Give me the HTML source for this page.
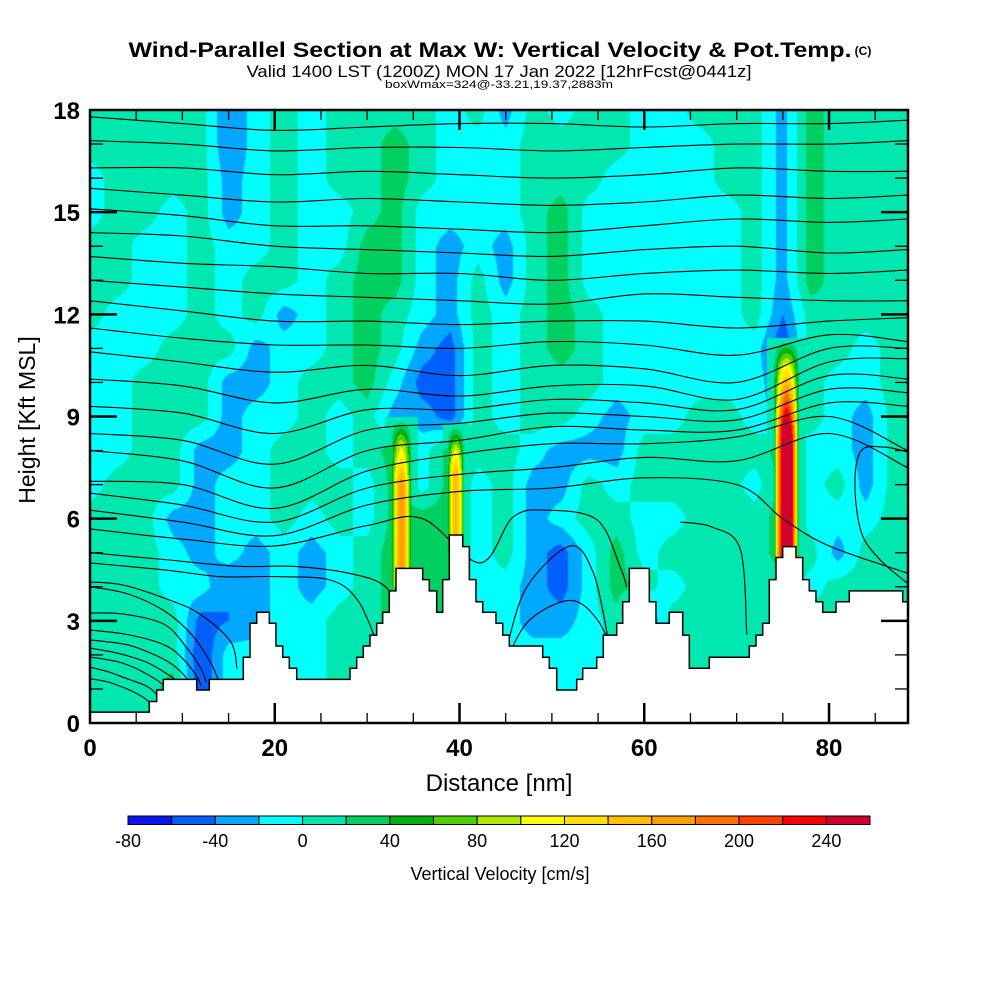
<!DOCTYPE html>
<html><head><meta charset="utf-8">
<style>
html,body{margin:0;padding:0;background:#fff;}
#wrap{position:relative;width:1000px;height:1000px;overflow:hidden;font-family:"Liberation Sans",Arial,sans-serif;}
canvas,svg{position:absolute;left:0;top:0;}
</style></head>
<body>
<div id="wrap">
<canvas id="cv" width="1000" height="1000"></canvas>
<svg id="sv" width="1000" height="1000"></svg>
</div>
<script>
// ---- data ----
const gridX = [0,3,6,9,12,15,18,21,24,27,30,33,36,39,42,45,48,51,54,57,60,63,66,69,72,75,78,81,84,87,90];
const gridY = [0,1,2,3,4,5,6,7,8,9,10,11,12,13,14,15,16,17,18];
const w0  = [10,10,10,30,-60,-10,-10,-10,-10,10,10,10,10,10,-10,-10,-10,-10,-10,10,10,10,10,10,10,10,10,10,10,10,10];
const w1  = [10,10,10,30,-60,-10,-10,-10,-10,10,10,10,10,10,-10,-10,-10,-10,-10,10,10,10,10,10,10,10,10,10,10,10,10];
const w2  = [10,10,10,10,-60,-10,-10,-10,-10,10,10,10,10,10,-10,-10,-10,-10,-10,10,10,10,10,10,10,10,10,10,10,10,10];
const w3  = [10,10,10,10,-50,-40,-30,-10,-10,10,10,30,30,30,-10,-10,-30,-30,-10,10,-50,10,10,10,10,10,10,10,10,10,10];
const w4  = [10,10,10,-10,-10,-40,-30,-10,-30,-10,10,30,30,30,-10,-10,-30,-50,-10,30,10,-10,10,10,10,10,-10,10,10,10,10];
const w5  = [10,10,10,-10,-30,-10,-30,-10,-30,-10,10,30,30,30,-10,10,-30,-50,-10,30,-10,10,10,10,10,30,10,-30,10,10,-10];
const w6  = [10,10,10,-30,-30,-10,-10,10,-10,10,-10,30,30,30,-10,10,-30,-10,10,10,-10,-10,10,10,10,30,-10,-10,-10,10,-10];
const w7  = [-10,10,10,10,-30,-10,-10,10,10,10,-10,30,-10,30,-10,10,-30,-30,10,-10,10,10,10,10,-10,30,-10,10,-30,10,-10];
const w8  = [-10,-10,10,10,-30,-30,-10,10,10,-10,10,30,-10,30,10,10,-10,-30,-30,-30,10,10,10,10,10,30,-10,-10,-30,10,10];
const w9  = [-10,-10,10,10,10,-30,-10,-10,10,-10,10,-30,-30,-50,10,-10,10,10,-10,-30,-10,-10,10,10,-10,-30,10,-10,-30,10,10];
const w10 = [-10,-10,10,10,10,-30,-30,-10,10,10,30,-10,-50,-50,10,-10,10,10,10,-10,-10,-10,-10,-10,-10,-40,10,-10,-10,10,10];
const w11 = [-10,-10,-10,10,10,10,-30,-10,-10,10,30,10,-30,-50,10,-10,10,30,10,-10,-10,-10,-10,-10,-10,-60,10,10,-10,10,10];
const w12 = [10,-10,-10,-10,10,-10,10,-30,-10,10,30,10,-10,-30,10,-10,10,30,10,-10,-10,-10,-10,-10,10,-40,10,10,10,10,10];
const w13 = [10,10,-10,-10,10,-10,10,10,-10,10,30,30,-10,-30,10,-30,10,30,-10,-10,-10,-10,-10,-10,10,-30,30,10,10,10,10];
const w14 = [10,10,-10,-10,10,-10,-10,10,-10,-10,30,30,-10,-30,-10,-30,10,30,-10,-10,-10,-10,-10,-10,10,-30,30,10,10,10,10];
const w15 = [-10,10,10,-10,10,-30,-10,10,-10,-10,10,30,-10,-10,-10,-10,10,30,-10,-10,-10,-10,-10,-10,10,-30,30,10,10,10,10];
const w16 = [-10,10,10,10,10,-30,-10,10,-10,10,10,30,10,-10,-10,-10,10,10,10,-10,-10,-10,-10,10,10,-30,30,10,10,10,10];
const w17 = [10,10,10,10,10,-40,-10,10,-10,10,10,30,10,-10,-10,-10,10,10,10,10,-10,-10,-10,10,10,-30,30,10,10,10,10];
const w18 = [10,10,10,10,10,-40,-10,10,-10,10,10,10,10,-10,10,-30,10,-10,10,10,-10,-10,10,10,10,-30,30,10,10,10,10];
const wRows = [w0,w1,w2,w3,w4,w5,w6,w7,w8,w9,w10,w11,w12,w13,w14,w15,w16,w17,w18];
// narrow updraft jets: center nm, half width nm, bottom kft, top kft, peak cm/s
const jetCenter = [33.7, 39.6, 75.4];
const jetHalfW  = [1.1, 0.9, 1.35];
const jetBottom = [4.5, 5.5, 5.0];
const jetTop    = [9.0, 8.8, 11.3];
const jetPeak   = [135, 120, 250];
// terrain steps (start nm, height kft)
const terrX = [0,6.42,7.22,7.94,11.55,12.91,16.60,17.32,18.05,19.41,20.14,20.86,21.58,22.38,28.15,28.87,29.59,30.31,31.04,31.69,32.40,33.13,36.02,36.73,37.53,38.18,38.90,40.35,41.06,41.79,42.51,43.95,44.68,45.39,49.01,49.72,50.52,52.69,53.34,54.85,55.57,57.02,57.67,58.38,60.55,61.27,62.71,64.16,64.88,67.04,71.37,72.10,72.82,73.54,74.26,74.99,76.43,77.15,77.87,78.59,79.32,80.76,82.20,87.98];
const terrH = [0.32,0.63,0.97,1.28,0.97,1.28,1.93,2.93,3.25,2.93,2.26,1.93,1.61,1.28,1.61,1.93,2.26,2.58,2.93,3.25,3.88,4.54,4.21,3.88,3.25,4.21,5.52,5.18,4.21,3.56,3.25,2.93,2.58,2.26,1.93,1.61,0.97,1.28,1.61,1.93,2.58,2.93,3.56,4.54,3.56,2.93,3.25,2.58,1.61,1.93,2.26,2.58,2.93,4.21,4.86,5.18,4.86,4.21,3.88,3.56,3.25,3.56,3.88,3.56];
// potential temperature contour lines
const thX10 = [0,10,20,30,40,50,60,70,80,88.5];
const thetaX = [
 thX10,thX10,thX10,thX10,thX10,thX10,thX10,thX10,thX10,thX10,thX10,thX10,thX10,thX10,thX10,thX10,thX10,
 [0,10,20,30,40,50,60,70,75,80,88.5],
 [0,10,20,30,36,42.2,45.8,49.5,54.9,57.4,58.1],
 [0,8,16,22,28,32,34],
 [0,8,14,20,26,29,31],
 [0,3.6,8.7,11.9,15.2,15.9],
 [0,4,8,11,13,14],
 [0,3.6,8,10.5,12,12.6],
 [0,4,8,10,11.5,12],
 [0,4,7,9,10.5,11],
 [0,3,6,8,9.5,10],
 [0,3,5,7,8,8.5],
 [0,2,4,6,7,7.5],
 [0,2,4,5.5,6.5],
 [45.1,47.3,52.0,54.5,56.0],
 [63.9,67.4,70.4,71.1],
 [88.5,85.5,83.5,82.8,83.5,86,88.5],
 [45,47.5,52,55,57]
];
const thetaH = [
 [17.8,17.6,17.4,17.5,17.6,17.6,17.5,17.6,17.6,17.7],
 [17.1,17.0,16.8,16.9,16.9,16.8,16.9,17.0,17.0,17.1],
 [16.3,16.3,16.1,16.2,16.1,16.0,16.1,16.3,16.2,16.2],
 [15.7,15.5,15.3,15.4,15.3,15.2,15.3,15.5,15.4,15.5],
 [15.1,14.9,14.6,14.6,14.5,14.4,14.6,14.8,14.7,14.8],
 [14.4,14.3,14.0,13.9,13.8,13.7,13.9,14.0,13.8,13.9],
 [13.7,13.5,13.4,13.2,13.2,13.0,13.2,13.3,13.2,13.3],
 [13.0,12.8,12.6,12.5,12.4,12.3,12.6,12.5,12.4,12.4],
 [12.4,12.1,11.8,11.8,11.7,11.8,11.8,11.6,11.8,11.9],
 [11.6,11.3,11.1,11.1,11.0,11.2,11.1,10.8,11.4,11.2],
 [10.9,10.6,10.3,10.5,10.2,10.5,10.4,10.0,11.0,11.0],
 [10.1,9.9,9.4,9.8,9.6,9.9,9.9,9.5,10.6,10.7],
 [9.3,9.1,8.5,9.2,9.2,9.5,9.4,9.2,10.2,10.1],
 [8.5,8.3,7.6,8.6,8.8,9.1,9.0,8.9,9.8,9.7],
 [8.0,7.7,6.9,8.0,8.3,8.7,8.6,8.6,9.4,9.3],
 [7.1,7.0,6.3,7.4,7.9,8.2,8.2,8.4,9.0,8.0],
 [6.75,6.4,5.9,6.9,7.3,7.5,7.8,7.7,8.5,7.5],
 [6.25,5.9,5.5,6.4,6.8,6.9,7.2,7.0,6.0,5.2,4.4],
 [5.7,5.4,5.2,5.8,6.0,4.7,6.05,6.25,5.96,4.58,4.0],
 [5.0,4.8,4.6,4.6,4.4,4.0,3.0],
 [4.7,4.5,4.3,4.3,4.2,3.6,2.4],
 [4.14,4.05,3.6,3.2,2.4,1.6],
 [4.0,3.8,3.3,2.6,1.8,1.2],
 [3.23,3.2,2.9,2.2,1.6,1.2],
 [2.73,2.6,2.3,1.9,1.4,1.1],
 [2.44,2.3,2.0,1.7,1.3,1.0],
 [2.2,2.05,1.8,1.5,1.2,0.9],
 [1.94,1.8,1.6,1.3,1.1,0.9],
 [1.64,1.5,1.3,1.1,0.9,0.7],
 [1.3,1.2,1.0,0.8,0.6],
 [2.2,4.0,5.2,4.4,2.6],
 [5.9,5.75,5.1,2.6],
 [4.1,4.8,5.6,7.0,8.0,8.1,7.96],
 [1.8,3.0,3.6,3.0,1.8]
];
const xTicks = [0,20,40,60,80];
const yTicks = [0,3,6,9,12,15,18];
const cbarLabels = [-80,-40,0,40,80,120,160,200,240];
const cbarColors = ["#0a14f0","#0060ff","#00a8ff","#00ffff","#00e8b0","#00d060","#00b010","#50d000","#b0e800","#ffff00","#ffe000","#ffc000","#ffa000","#ff7000","#ff4000","#ff0000","#d00030"];
const cbarMin = -80, cbarStep = 20;

// ---- axes ----
const PL=90, PR=908, PT=110, PB=723, XMAX=88.55, YMAX=18;
function sx(nm){return PL+(PR-PL)*nm/XMAX;}
function sy(k){return PB-(PB-PT)*k/YMAX;}
function hexRGB(h){return [parseInt(h.slice(1,3),16),parseInt(h.slice(3,5),16),parseInt(h.slice(5,7),16)];}
const rgb = cbarColors.map(hexRGB);

function fieldAt(nm,k){
  let gi = Math.min(Math.max(nm/3,0),gridX.length-1.0001);
  let gj = Math.min(Math.max(k,0),gridY.length-1.0001);
  let i=Math.floor(gi), j=Math.floor(gj), fx=gi-i, fy=gj-j;
  let a=wRows[j][i], b=wRows[j][i+1], c=wRows[j+1][i], d=wRows[j+1][i+1];
  let v=(a*(1-fx)+b*fx)*(1-fy)+(c*(1-fx)+d*fx)*fy;
  for(let q=0;q<jetCenter.length;q++){
    let dx=(nm-jetCenter[q])/jetHalfW[q];
    if(Math.abs(dx)<1.6 && k>jetBottom[q]-0.5 && k<jetTop[q]){
      let hp=Math.max(0,1-dx*dx);
      let vt=Math.min(1,(jetTop[q]-k)/((jetTop[q]-jetBottom[q])*0.45));
      let jv=jetPeak[q]*hp*vt + 40*Math.max(0,1-Math.abs(dx)/1.6)*Math.min(1,(jetTop[q]-k)/0.8);
      v=Math.max(v,jv);
    }
  }
  return v;
}
// draw field
const cv=document.getElementById('cv');
const ctx=cv.getContext('2d');
const img=ctx.createImageData(PR-PL,PB-PT);
for(let py=0;py<PB-PT;py++){
  const k=(PB-PT-py-0.5)/(PB-PT)*YMAX;
  for(let px=0;px<PR-PL;px++){
    const nm=(px+0.5)/(PR-PL)*XMAX;
    let v=fieldAt(nm,k);
    let idx=Math.floor((v-cbarMin)/cbarStep);
    idx=Math.max(0,Math.min(rgb.length-1,idx));
    const o=(py*(PR-PL)+px)*4, c=rgb[idx];
    img.data[o]=c[0];img.data[o+1]=c[1];img.data[o+2]=c[2];img.data[o+3]=255;
  }
}
ctx.putImageData(img,PL,PT);

// ---- svg overlay ----
const NS="http://www.w3.org/2000/svg";
const sv=document.getElementById('sv');
function el(tag,attrs,parent){const e=document.createElementNS(NS,tag);for(const k in attrs)e.setAttribute(k,attrs[k]);(parent||sv).appendChild(e);return e;}
const defs=el('defs',{});
const cp=el('clipPath',{id:'plotclip'},defs);
el('rect',{x:PL,y:PT,width:PR-PL,height:PB-PT},cp);

// theta lines
const gLines=el('g',{'clip-path':'url(#plotclip)',fill:'none',stroke:'#000','stroke-width':'1.1'});


for(let L=0;L<thetaH.length;L++){
  const xs=thetaX[L], hs=thetaH[L];
  const pts=xs.map((x,i)=>[sx(x),sy(hs[i])]);
  let d='M'+pts[0][0].toFixed(1)+','+pts[0][1].toFixed(1);
  for(let i=0;i<pts.length-1;i++){
    const p0=pts[Math.max(0,i-1)],p1=pts[i],p2=pts[i+1],p3=pts[Math.min(pts.length-1,i+2)];
    const c1=[p1[0]+(p2[0]-p0[0])/6,p1[1]+(p2[1]-p0[1])/6];
    const c2=[p2[0]-(p3[0]-p1[0])/6,p2[1]-(p3[1]-p1[1])/6];
    d+=' C'+c1[0].toFixed(1)+','+c1[1].toFixed(1)+' '+c2[0].toFixed(1)+','+c2[1].toFixed(1)+' '+p2[0].toFixed(1)+','+p2[1].toFixed(1);
  }
  const p=el('path',{d:d},gLines);
  
  
}

// terrain
let td='M'+sx(0)+','+PB;
for(let i=0;i<terrX.length;i++){
  const x0=sx(terrX[i]), x1=sx(i+1<terrX.length?terrX[i+1]:XMAX), y=sy(terrH[i]);
  td+=' L'+x0.toFixed(1)+','+y.toFixed(1)+' L'+x1.toFixed(1)+','+y.toFixed(1);
}
td+=' L'+PR+','+PB+' Z';
const terr=el('path',{d:td,fill:'#fff',stroke:'#000','stroke-width':'1.5'});



// frame & ticks
const frame=el('rect',{x:PL,y:PT,width:PR-PL,height:PB-PT,fill:'none',stroke:'#000','stroke-width':'2.5'});


const gT=el('g',{stroke:'#000'});


for(let x=5;x<XMAX;x+=5){
  const major=(x%20===0), len=major?20:10, X=sx(x);
  el('line',{x1:X,y1:PB,x2:X,y2:PB-len,'stroke-width':major?2.5:1.3},gT);
  el('line',{x1:X,y1:PT,x2:X,y2:PT+len,'stroke-width':major?2.5:1.3},gT);
}
for(let k=1;k<YMAX;k++){
  const major=(k%3===0), len=major?27:13, Y=sy(k);
  el('line',{x1:PL,y1:Y,x2:PL+len,y2:Y,'stroke-width':major?2.5:1.3},gT);
  el('line',{x1:PR,y1:Y,x2:PR-len,y2:Y,'stroke-width':major?2.5:1.3},gT);
}
const FF='"Liberation Sans",Arial,sans-serif';
xTicks.forEach(v=>{
  const t=el('text',{x:sx(v),y:756,'text-anchor':'middle','font-size':24,'font-weight':'bold','font-family':FF});
  t.textContent=String(v);
  
  
});
yTicks.forEach(v=>{
  const t=el('text',{x:80,y:sy(v)+9,'text-anchor':'end','font-size':24,'font-weight':'bold','font-family':FF});
  t.textContent=String(v);
  
  
});
function txt(x,y,s,size,name,extra){
  const t=el('text',Object.assign({x:x,y:y,'font-size':size,'font-family':FF,'text-anchor':'middle'},extra||{}));
  t.textContent=s;
  
  
  return t;
}
txt(499,791,'Distance [nm]',24,'x-axis-title');
txt(0,0,'Height [Kft MSL]',23,'y-axis-title',{transform:'translate(35,420) rotate(-90)'});
txt(490,57,'Wind-Parallel Section at Max W: Vertical Velocity & Pot.Temp.',21,'chart-title',{'font-weight':'bold',textLength:723,lengthAdjust:'spacingAndGlyphs'});
txt(863,55,'(C)',12,'copyright-mark',{'font-weight':'bold'});
txt(499,77,'Valid 1400 LST (1200Z) MON 17 Jan 2022 [12hrFcst@0441z]',17,'chart-subtitle',{textLength:505,lengthAdjust:'spacingAndGlyphs'});
txt(499,88,'boxWmax=324@-33.21,19.37,2883m',11,'chart-subtitle-2',{textLength:228,lengthAdjust:'spacingAndGlyphs'});

// colorbar
const CB0=128, CB1=870, CBY=816, CBH=8.5;
const bw=(CB1-CB0)/cbarColors.length;
const gC=el('g',{});


cbarColors.forEach((c,i)=>{
  const r=el('rect',{x:CB0+i*bw,y:CBY,width:bw,height:CBH,fill:c,stroke:'#000','stroke-width':1},gC);
  
  
});
cbarLabels.forEach(v=>{
  const X=CB0+(v-cbarMin)/cbarStep*bw;
  txt(X,847,String(v),18,'colorbar-tick-label');
});
txt(500,880,'Vertical Velocity [cm/s]',18,'colorbar-title');
</script>
</body></html>
